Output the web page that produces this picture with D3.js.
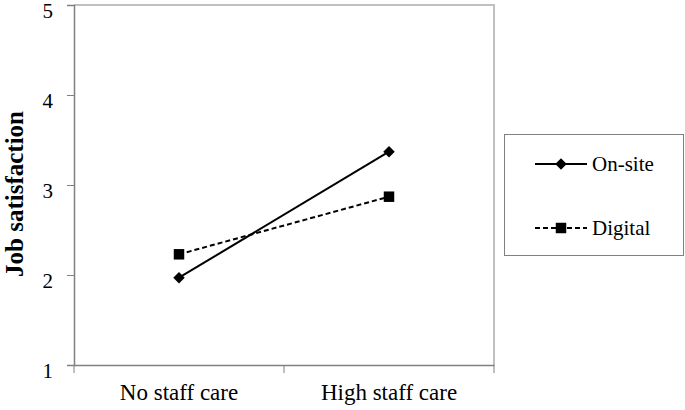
<!DOCTYPE html>
<html>
<head>
<meta charset="utf-8">
<script src="https://cdn.jsdelivr.net/npm/d3@7"></script>
<style>
  body { margin: 0; background: #fff; }
  text { font-family: "Liberation Serif", "Times New Roman", serif; fill: #000; }
</style>
</head>
<body>
<div id="chart"></div>
<script>
const categories = ['No staff care', 'High staff care'];
const onSite = [1.97, 3.37];
const digital = [2.23, 2.87];
const yTicks = [1, 2, 3, 4, 5];
const seriesNames = ['On-site', 'Digital'];

const width = 685, height = 410;
const plot = {left: 74, right: 494, top: 5, bottom: 365};

const svg = d3.select('#chart').append('svg').attr('width', width).attr('height', height);

const x = d3.scaleBand().domain(categories).range([plot.left, plot.right]);
const y = d3.scaleLinear().domain([1, 5]).range([plot.bottom, plot.top]);

// plot frame (top + right lighter)
svg.append('path')
	.attr('d', `M${plot.left},${plot.top}H${plot.right}V${plot.bottom}`)
	.attr('fill', 'none').attr('stroke', '#c0c0c0').attr('stroke-width', 2);

// y axis
const yAxis = svg.append('g').attr('transform', `translate(${plot.left},0)`)
	.call(d3.axisLeft(y).tickValues(yTicks).tickSize(7).tickFormat(d3.format('d')));
yAxis.select('.domain').attr('stroke', '#808080').attr('stroke-width', 1.5);
yAxis.selectAll('.tick line').attr('stroke', '#808080');
yAxis.selectAll('.tick text').attr('font-size', 21).attr('x', -21).attr('y', 5).attr('dy', '0.35em')
	.style('font-family', '"Liberation Serif", serif');

// x axis
const xAxis = svg.append('g').attr('transform', `translate(0,${plot.bottom})`)
	.call(d3.axisBottom(x).tickSize(0).tickPadding(19));
xAxis.select('.domain').attr('stroke', '#808080').attr('stroke-width', 1.5);
xAxis.selectAll('.tick text').attr('font-size', 23).attr('dy', '0.71em')
	.style('font-family', '"Liberation Serif", serif');
// category boundary ticks
const edges = [plot.left, plot.left + x.bandwidth(), plot.right];
xAxis.selectAll('line.edge').data(edges).enter().append('line')
	.attr('class', 'edge')
	.attr('x1', d => d).attr('x2', d => d).attr('y1', 0).attr('y2', 8)
	.attr('stroke', '#808080');

// y label
svg.append('text')
	.attr('transform', `translate(23,${(plot.top + plot.bottom) / 2 + 9}) rotate(-90)`)
	.attr('text-anchor', 'middle')
	.attr('font-size', 25).attr('font-weight', 'bold')
	.text('Job satisfaction');

const cx = d => x(d) + x.bandwidth() / 2;
const line = d3.line().x((d, i) => cx(categories[i])).y(d => y(d));

const series = [
	{name: seriesNames[0], values: onSite, dash: null, shape: d3.symbolDiamond2, size: 85},
	{name: seriesNames[1], values: digital, dash: '5,3', shape: d3.symbolSquare, size: 110}
];

series.forEach(s => {
	svg.append('path').datum(s.values)
		.attr('d', line)
		.attr('fill', 'none').attr('stroke', '#000').attr('stroke-width', 2)
		.attr('stroke-dasharray', s.dash);
	svg.selectAll(null).data(s.values).enter().append('path')
		.attr('d', d3.symbol().type(s.shape).size(s.size))
		.attr('transform', (d, i) => `translate(${cx(categories[i])},${y(d)})`)
		.attr('fill', '#000');
});

// legend
const legend = svg.append('g');
legend.append('rect')
	.attr('x', 504.5).attr('y', 134.5).attr('width', 179).attr('height', 121)
	.attr('fill', '#fff').attr('stroke', '#808080');
const ly = d3.scalePoint().domain(seriesNames).range([164, 228]);
series.forEach(s => {
	const g = legend.append('g').attr('transform', `translate(0,${ly(s.name)})`);
	g.append('line').attr('x1', 535).attr('x2', 587).attr('y1', 0).attr('y2', 0)
		.attr('stroke', '#000').attr('stroke-width', 2).attr('stroke-dasharray', s.dash);
	g.append('path').attr('d', d3.symbol().type(s.shape).size(s.size))
		.attr('transform', 'translate(561,0)').attr('fill', '#000');
	g.append('text').attr('x', 592).attr('dy', '0.35em').attr('font-size', 21).text(s.name);
});
</script>
</body>
</html>
